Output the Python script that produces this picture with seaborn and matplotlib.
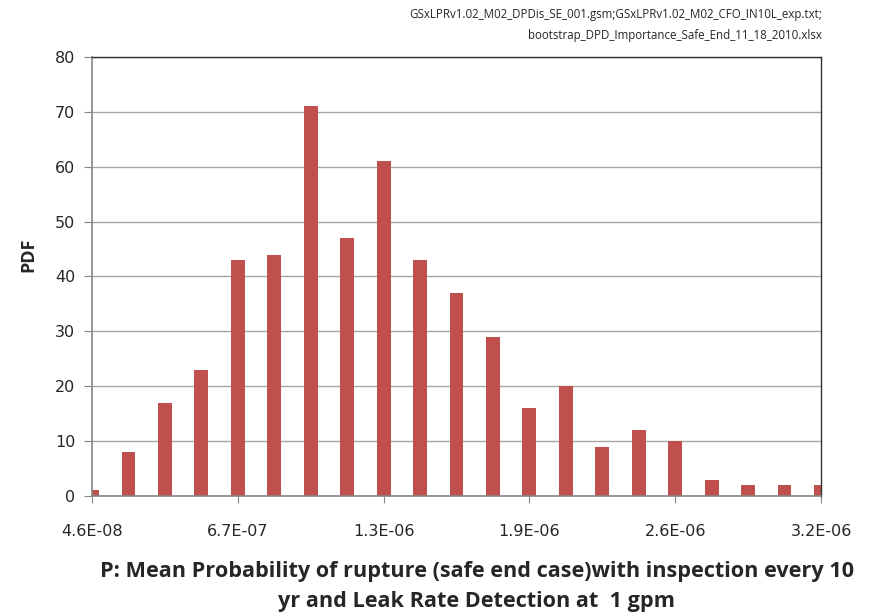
import matplotlib
matplotlib.use("Agg")
import matplotlib.pyplot as plt
import seaborn as sns

# bin centres (mean probability of rupture) and PDF heights
bins = ["4.6E-08", "2.0E-07", "3.6E-07", "5.2E-07", "6.7E-07", "8.3E-07", "9.9E-07",
        "1.1E-06", "1.3E-06", "1.5E-06", "1.6E-06", "1.8E-06", "1.9E-06", "2.1E-06",
        "2.2E-06", "2.4E-06", "2.6E-06", "2.7E-06", "2.9E-06", "3.0E-06", "3.2E-06"]
pdf = [1, 8, 17, 23, 43, 44, 71, 47, 61, 43, 37, 29, 16, 20, 9, 12, 10, 3, 2, 2, 2]
shown_ticks = [0, 4, 8, 12, 16, 20]

sns.set_style("white")
plt.rcParams['font.family'] = ['Open Sans', 'DejaVu Sans']

fig = plt.figure(figsize=(8.81, 6.13), dpi=100)
ax = fig.add_axes([0.1044, 0.1909, 0.8275, 0.7161])

sns.barplot(x=bins, y=pdf, color="#C0504D", saturation=1, width=0.38,
            linewidth=0, ax=ax)

ax.set_xlim(0, 20)
ax.set_ylim(0, 80)
ax.set_yticks(range(0, 81, 10))
ax.set_xticks(shown_ticks)
ax.set_xticklabels([bins[i] for i in shown_ticks])
ax.yaxis.grid(True, color="#A6A6A6", linewidth=1)
ax.set_axisbelow(True)

for side in ["top", "right"]:
    ax.spines[side].set_color("#333333")
    ax.spines[side].set_linewidth(1)
for side in ["left", "bottom"]:
    ax.spines[side].set_color("#868686")
    ax.spines[side].set_linewidth(1.2)

ax.tick_params(axis="x", direction="out", length=5, color="#868686", pad=15, labelsize=11.5, bottom=True)
ax.tick_params(axis="y", direction="out", length=6, color="#868686", pad=6, labelsize=11.5, left=True)
for lab in ax.get_xticklabels() + ax.get_yticklabels():
    lab.set_family("DejaVu Sans")

ax.set_xlabel("")
ax.set_ylabel("PDF", fontsize=13, fontweight="bold")
ax.yaxis.set_label_coords(-0.075, 0.55)

fig.text(0.541, 0.043, "P: Mean Probability of rupture (safe end case)with inspection every 10\n"
         "yr and Leak Rate Detection at  1 gpm",
         ha="center", va="center", fontsize=15.6, fontweight="bold", linespacing=1.55)

fig.text(0.933, 0.960, "GSxLPRv1.02_M02_DPDis_SE_001.gsm;GSxLPRv1.02_M02_CFO_IN10L_exp.txt;\n"
         "bootstrap_DPD_Importance_Safe_End_11_18_2010.xlsx",
         ha="right", va="center", fontsize=8.3, linespacing=1.8)

fig.savefig("out.png", dpi=100)
